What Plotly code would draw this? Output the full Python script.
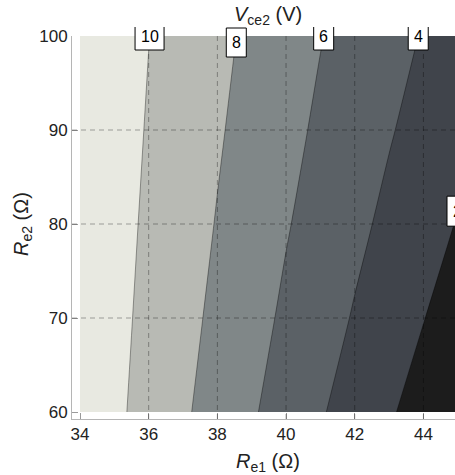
import numpy as np
import plotly.graph_objects as go

# Emitter resistances (ohm) and collector-emitter voltage of stage 2 (V)
re1 = [34, 35, 36, 37, 38, 39, 40, 41, 42, 43, 44, 45]
re2 = [60, 70, 80, 90, 100]
vce2 = [
    [11.47, 10.39, 9.32, 8.26, 7.23, 6.20, 5.18, 4.17, 3.19, 2.21, 1.24, 0.29],   # Re2 = 60
    [11.51, 10.52, 9.54, 8.56, 7.59, 6.64, 5.69, 4.77, 3.86, 2.95, 2.05, 1.16],   # Re2 = 70
    [11.55, 10.63, 9.72, 8.81, 7.91, 7.02, 6.13, 5.27, 4.43, 3.59, 2.75, 1.91],   # Re2 = 80
    [11.59, 10.73, 9.88, 9.03, 8.19, 7.35, 6.51, 5.70, 4.92, 4.14, 3.36, 2.57],   # Re2 = 90
    [11.62, 10.82, 10.02, 9.23, 8.43, 7.65, 6.86, 6.07, 5.34, 4.62, 3.89, 3.15],  # Re2 = 100
]
levels = [2, 4, 6, 8, 10]
x_ticks = [34, 36, 38, 40, 42, 44]
y_ticks = [60, 70, 80, 90, 100]
x_grid = [36, 38, 40, 42, 44]
y_grid = [70, 80, 90]

band_colors = ["#1c1c1c", "#40444b", "#5b6166", "#808788", "#b8bab4", "#e8e9e1"]

X_RANGE = [33.767, 44.92]
Y_RANGE = [59.255, 100]
W, H = 455, 475
M = dict(l=72, r=0, t=36, b=56)
PW = W - M["l"] - M["r"]
PH = H - M["t"] - M["b"]
FONT = "Liberation Sans, Arial, Helvetica, sans-serif"
TEXT = "#222222"


def px_x(px):
    """page pixel column -> paper x"""
    return (px - M["l"]) / PW


def px_y(py):
    """page pixel row -> paper y"""
    return (H - M["b"] - py) / PH


def data_x(x):
    return (x - X_RANGE[0]) / (X_RANGE[1] - X_RANGE[0])


def data_y(y):
    return (y - Y_RANGE[0]) / (Y_RANGE[1] - Y_RANGE[0])


# stepped colour scale: one flat colour per band
n = len(band_colors)
colorscale = []
for i, c in enumerate(band_colors):
    colorscale.append([i / n, c])
    colorscale.append([(i + 1) / n, c])

step = levels[1] - levels[0]
fig = go.Figure(go.Contour(
    x=re1, y=re2, z=vce2,
    autocontour=False,
    contours=dict(start=levels[0], end=levels[-1], size=step, coloring="fill", showlabels=False),
    colorscale=colorscale, zmin=0, zmax=12,
    line=dict(color="rgba(0,0,0,0.45)", width=0.8),
    showscale=False, hoverinfo="skip",
))

grid_style = dict(color="rgba(0,0,0,0.33)", width=1, dash="5px,4px")
for gx in x_grid:
    fig.add_shape(type="line", xref="x", yref="y", x0=gx, x1=gx, y0=Y_RANGE[0], y1=Y_RANGE[1],
                  line=grid_style, layer="above")
for gy in y_grid:
    fig.add_shape(type="line", xref="x", yref="y", x0=X_RANGE[0], x1=X_RANGE[1], y0=gy, y1=gy,
                  line=grid_style, layer="above")

label_font = dict(family=FONT, size=16, color="black")
box_line = dict(color="black", width=1)


def label(text, cx_px, top_px, bot_px, open_top, text_dy=0):
    """white label box centred on column cx_px; open_top leaves the upper edge undrawn"""
    w = 11 + 9 * len(text)
    x0, x1 = px_x(cx_px - w / 2), px_x(cx_px + w / 2)
    y0, y1 = px_y(bot_px), px_y(top_px)
    if open_top:
        path = f"M {x0},{y1} L {x0},{y0} L {x1},{y0} L {x1},{y1} Z"
        fig.add_shape(type="path", xref="paper", yref="paper", path=path,
                      fillcolor="white", line=dict(width=0), layer="above")
        path = f"M {x0},{y1} L {x0},{y0} L {x1},{y0} L {x1},{y1}"
        fig.add_shape(type="path", xref="paper", yref="paper", path=path,
                      fillcolor="rgba(0,0,0,0)", line=box_line, layer="above")
    else:
        fig.add_shape(type="rect", xref="paper", yref="paper", x0=x0, x1=x1, y0=y0, y1=y1,
                      fillcolor="white", line=box_line, layer="above")
    fig.add_annotation(text=text, x=px_x(cx_px), y=px_y((top_px + bot_px) / 2 + text_dy),
                       xref="paper", yref="paper", xanchor="center", yanchor="middle",
                       showarrow=False, font=label_font)


# contour labels where each level line meets the top edge
z = np.array(vce2)
top = z[-1]
plot_top = M["t"]
for lv in levels[1:]:
    xc = float(np.interp(lv, top[::-1], np.array(re1)[::-1]))
    cx = M["l"] + data_x(xc) * PW
    if lv == 8:
        label(str(lv), cx, plot_top - 8, plot_top + 21, open_top=False)
    else:
        label(str(lv), cx, plot_top - 9, plot_top + 14, open_top=True, text_dy=-2)

# lowest level label where its line leaves through the right side
right = z[:, -1]
yc = float(np.interp(levels[0], right, re2))
cy = H - M["b"] - data_y(yc) * PH
label(str(levels[0]), W + 2, cy - 15, cy + 15, open_top=False)

# titles
title_font = dict(family=FONT, size=20, color=TEXT)
fig.add_annotation(text="<i>V</i><sub>ce2</sub> (V)", x=px_x(268), y=px_y(15), xref="paper", yref="paper",
                   xanchor="center", yanchor="middle", showarrow=False, font=title_font)
fig.add_annotation(text="<i>R</i><sub>e1</sub> (Ω)", x=px_x(268), y=px_y(462), xref="paper", yref="paper",
                   xanchor="center", yanchor="middle", showarrow=False, font=title_font)
fig.add_annotation(text="<i>R</i><sub>e2</sub> (Ω)", x=px_x(22), y=px_y(224), xref="paper", yref="paper",
                   xanchor="center", yanchor="middle", textangle=-90, showarrow=False, font=title_font)

axis_common = dict(ticks="inside", ticklen=6, tickcolor="#9a9a9a", showline=True, linecolor="#b5b5b5",
                   linewidth=1, showgrid=False, zeroline=False, mirror=False, automargin=False,
                   tickfont=dict(family=FONT, size=17, color=TEXT))
fig.update_xaxes(range=X_RANGE, tickvals=x_ticks, **axis_common)
fig.update_yaxes(range=Y_RANGE, tickvals=y_ticks, **axis_common)

fig.update_layout(width=W, height=H, margin=M,
                  plot_bgcolor="white", paper_bgcolor="white", showlegend=False)

fig.write_html("out.html")
